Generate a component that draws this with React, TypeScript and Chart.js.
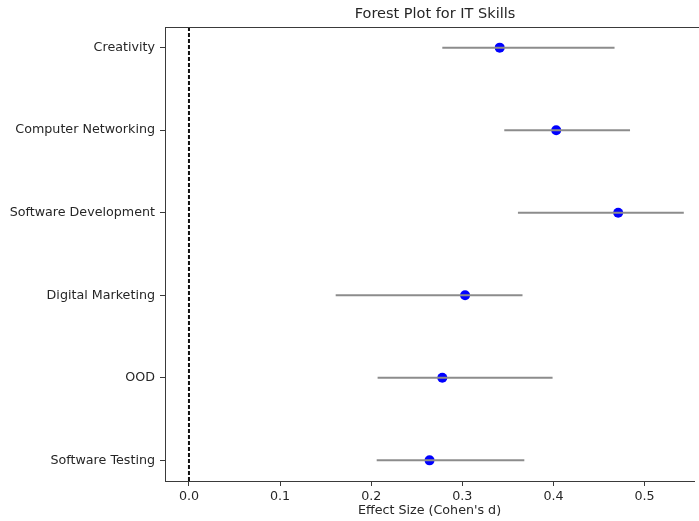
import React, { useEffect, useRef } from "react";
import { Chart, registerables } from "chart.js";

Chart.register(...registerables);

const categories = [
  "Creativity",
  "Computer Networking",
  "Software Development",
  "Digital Marketing",
  "OOD",
  "Software Testing",
];
const effects = [0.341, 0.403, 0.471, 0.303, 0.278, 0.264];
const ciLower = [0.278, 0.346, 0.361, 0.161, 0.207, 0.206];
const ciUpper = [0.467, 0.484, 0.543, 0.366, 0.399, 0.368];
const xTicks = [0.0, 0.1, 0.2, 0.3, 0.4, 0.5];
const titleText = "Forest Plot for IT Skills";
const xLabel = "Effect Size (Cohen's d)";

const FONT = "'DejaVu Sans', sans-serif";
const TEXT = "#262626";
const SPINE = "#3a3a3a";

export default function App() {
  const ref = useRef<HTMLCanvasElement>(null);

  useEffect(() => {
    if (!ref.current) return;
    const ciSets = categories.map((c, i) => ({
      type: "line" as const,
      label: c + " CI",
      data: [
        { x: ciLower[i], y: i },
        { x: ciUpper[i], y: i },
      ],
      borderColor: "#8c8c8c",
      borderWidth: 2,
      pointRadius: 0,
      showLine: true,
    }));

    const frame = {
      id: "frame",
      afterDraw(chart: any) {
        const { ctx, chartArea } = chart;
        ctx.save();
        ctx.strokeStyle = SPINE;
        ctx.lineWidth = 1;
        ctx.beginPath();
        ctx.moveTo(chartArea.left, chartArea.top + 0.5);
        ctx.lineTo(chart.width, chartArea.top + 0.5);
        ctx.stroke();
        ctx.fillStyle = TEXT;
        ctx.font = `14.5px ${FONT}`;
        ctx.textAlign = "center";
        ctx.textBaseline = "middle";
        ctx.fillText(titleText, 435, 14);
        ctx.restore();
      },
    };

    const chart = new Chart(ref.current, {
      type: "scatter",
      data: {
        datasets: [
          {
            type: "line" as const,
            label: "zero",
            data: [
              { x: 0, y: -0.25 },
              { x: 0, y: 5.25 },
            ],
            borderColor: "#111",
            borderWidth: 2,
            borderDash: [4, 2],
            pointRadius: 0,
            showLine: true,
          },
          ...ciSets,
          {
            type: "scatter" as const,
            label: "Effect",
            data: effects.map((v, i) => ({ x: v, y: i })),
            backgroundColor: "#0000ff",
            borderColor: "#0000ff",
            borderWidth: 0,
            pointRadius: 5,
            pointBorderWidth: 0,
          },
        ] as any,
      },
      options: {
        animation: false,
        responsive: true,
        maintainAspectRatio: false,
        layout: { padding: { top: 27, right: 0, left: 0, bottom: 0 } },
        plugins: {
          legend: { display: false },
          title: { display: false },
          tooltip: { enabled: false },
        },
        scales: {
          x: {
            type: "linear",
            min: -0.0263,
            max: 0.5542,
            afterBuildTicks: (s: any) => {
              s.ticks = xTicks.map((v) => ({ value: v }));
            },
            afterFit: (s: any) => {
              s.height = 40;
            },
            grid: {
              drawOnChartArea: false,
              drawTicks: true,
              tickLength: 5,
              color: SPINE,
            },
            border: { display: true, color: SPINE, width: 1 },
            ticks: {
              padding: 3,
              color: TEXT,
              font: { family: FONT, size: 12.7 },
              callback: (v: any) => Number(v).toFixed(1),
              maxRotation: 0,
            },
            title: {
              display: true,
              text: xLabel,
              color: TEXT,
              font: { family: FONT, size: 12.7 },
              padding: { top: 0, bottom: 3 },
            },
          },
          y: {
            type: "linear",
            reverse: true,
            min: -0.25,
            max: 5.25,
            afterBuildTicks: (s: any) => {
              s.ticks = categories.map((_, i) => ({ value: i }));
            },
            afterFit: (s: any) => {
              s.width = 165;
            },
            grid: {
              drawOnChartArea: false,
              drawTicks: true,
              tickLength: 5,
              color: SPINE,
            },
            border: { display: true, color: SPINE, width: 1 },
            ticks: {
              padding: 5,
              color: TEXT,
              font: { family: FONT, size: 12.7 },
              callback: (v: any) => categories[Math.round(Number(v))] ?? "",
            },
          },
        },
      },
      plugins: [frame],
    });
    return () => chart.destroy();
  }, []);

  return (
    <div style={{ position: "fixed", left: 0, top: 0, width: 699, height: 521, background: "#fff" }}>
      <canvas ref={ref} />
    </div>
  );
}
